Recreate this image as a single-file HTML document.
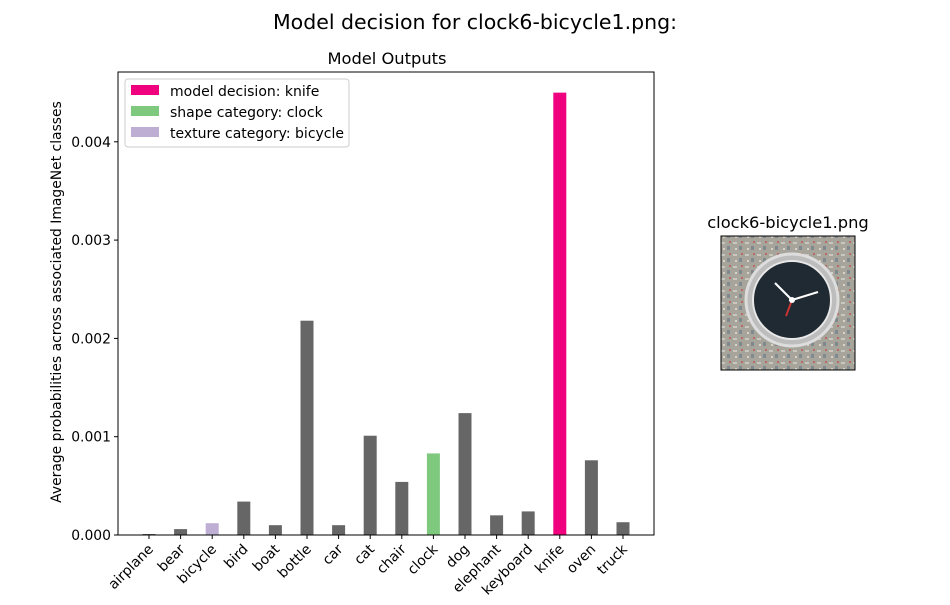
<!DOCTYPE html>
<html><head><meta charset="utf-8"><style>
body{margin:0;background:#fff;}
svg text{font-family:"DejaVu Sans","Liberation Sans",sans-serif;}
</style></head><body>
<svg id="chart" width="950" height="600" xmlns="http://www.w3.org/2000/svg">
<rect width="950" height="600" fill="#fff"/>
<text x="475" y="29" font-size="20.5" text-anchor="middle">Model decision for clock6-bicycle1.png:</text>
<text x="387" y="64" font-size="16.3" text-anchor="middle">Model Outputs</text>
<g id="bars"></g>
<g id="axes"></g>
<rect x="118" y="72" width="536" height="463" fill="none" stroke="#000" stroke-width="1"/>
<text transform="translate(61,302) rotate(-90)" font-size="13.9" text-anchor="middle">Average probabilities across associated ImageNet classes</text>
<g>
<rect x="125" y="79" width="224" height="68" fill="#fff" stroke="#ccc" rx="3"/>
<rect x="131" y="85" width="28" height="10" fill="#f0027f"/>
<text x="170" y="96" font-size="14">model decision: knife</text>
<rect x="131" y="106" width="28" height="10" fill="#7fc97f"/>
<text x="170" y="117" font-size="14">shape category: clock</text>
<rect x="131" y="127" width="28" height="10" fill="#beaed4"/>
<text x="170" y="138" font-size="14">texture category: bicycle</text>
</g>
<text x="788" y="228" font-size="16.3" text-anchor="middle">clock6-bicycle1.png</text>
<g>
<defs><pattern id="noise" width="12" height="12" patternUnits="userSpaceOnUse">
<rect width="12" height="12" fill="#a7a49c"/><rect x="1" y="2" width="4" height="2" fill="#c9c6bd"/><rect x="7" y="6" width="3" height="4" fill="#7f8a8e"/><rect x="3" y="8" width="2" height="2" fill="#d6d2c8"/><rect x="9" y="1" width="2" height="2" fill="#b56d63"/></pattern></defs>
<rect x="721" y="236" width="134" height="134" fill="url(#noise)"/>
<circle cx="792" cy="300" r="46" fill="#bdbdbd" stroke="#ddd" stroke-width="3"/>
<circle cx="792" cy="300" r="39" fill="#1f2a33" stroke="#e8e8e8" stroke-width="2"/>
<line x1="792" y1="300" x2="818" y2="292" stroke="#fff" stroke-width="2"/>
<line x1="792" y1="300" x2="775" y2="283" stroke="#fff" stroke-width="2"/>
<line x1="792" y1="300" x2="786" y2="316" stroke="#c33" stroke-width="2"/>
<circle cx="792" cy="300" r="3" fill="#fff"/>
<rect x="721" y="236" width="134" height="134" fill="none" stroke="#000"/>
</g>
</svg>
<script>
const categories=["airplane","bear","bicycle","bird","boat","bottle","car","cat","chair","clock","dog","elephant","keyboard","knife","oven","truck"];
const values=[0.00001,0.00006,0.00012,0.00034,0.0001,0.00218,0.0001,0.00101,0.00054,0.00083,0.00124,0.0002,0.00024,0.0045,0.00076,0.00013];
const yTicks=[0,0.001,0.002,0.003,0.004];
const yTickLabels=["0.000","0.001","0.002","0.003","0.004"];
const decision="knife", shape="clock", texture="bicycle";
const NS="http://www.w3.org/2000/svg";
const x0=118,x1=654,y0=535,yTop=72,ymax=0.00471;
const yScale=v=>y0-(v/ymax)*(y0-yTop);
const pad=31;
const step=(x1-x0-2*pad)/(categories.length-1);
const xScale=i=>x0+pad+step*i;
const bars=document.getElementById('bars'),axes=document.getElementById('axes');
function mk(t,a){const e=document.createElementNS(NS,t);for(const k in a)e.setAttribute(k,a[k]);return e;}
categories.forEach((c,i)=>{
  const cx=xScale(i),y=yScale(values[i]);
  const col=c===decision?"#f0027f":c===shape?"#7fc97f":c===texture?"#beaed4":"#666666";
  const r=mk('rect',{x:cx-6.5,y:y,width:13,height:y0-y,fill:col});
  
  
  bars.appendChild(r);
  axes.appendChild(mk('line',{x1:cx,x2:cx,y1:y0,y2:y0+4,stroke:'#000'}));
  const t=mk('text',{x:cx+5,y:y0+15,'font-size':13.9,'text-anchor':'end',transform:`rotate(-45 ${cx+5} ${y0+15})`});
  t.textContent=c;
  
  
  axes.appendChild(t);
});
yTicks.forEach((v,i)=>{
  const y=yScale(v);
  axes.appendChild(mk('line',{x1:x0-4,x2:x0,y1:y,y2:y,stroke:'#000'}));
  const t=mk('text',{x:x0-7,y:y+5,'font-size':13.9,'text-anchor':'end'});
  t.textContent=yTickLabels[i];
  
  
  axes.appendChild(t);
});
</script>
</body></html>
